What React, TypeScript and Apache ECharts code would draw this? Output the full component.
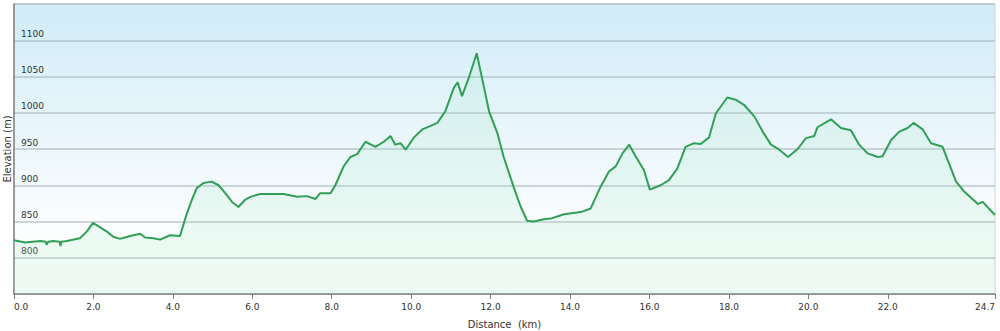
import React, { useEffect, useRef } from "react";
import * as echarts from "echarts";

const distanceKm = [
  0, 0.28, 0.66, 0.8, 0.82, 0.86, 0.99, 1.15, 1.17, 1.19, 1.33, 1.66, 1.83, 1.99, 2.17, 2.34, 2.5, 2.67,
  2.92, 3.18, 3.3, 3.51, 3.68, 3.93, 4.18, 4.35, 4.48, 4.6, 4.77, 4.98, 5.15, 5.32, 5.49, 5.65, 5.82,
  5.95, 6.2, 6.79, 7.13, 7.38, 7.59, 7.71, 7.97, 8.09, 8.3, 8.47, 8.64, 8.85, 9.1, 9.31, 9.48, 9.6, 9.73,
  9.86, 10.07, 10.28, 10.49, 10.66, 10.86, 11.07, 11.17, 11.28, 11.45, 11.65, 11.83, 11.96, 12.17,
  12.33, 12.59, 12.76, 12.92, 13.09, 13.34, 13.51, 13.85, 14.27, 14.52, 14.77, 14.98, 15.15, 15.32,
  15.49, 15.65, 15.86, 16.01, 16.28, 16.49, 16.7, 16.91, 17.12, 17.29, 17.5, 17.67, 17.96, 18.17,
  18.38, 18.64, 18.85, 19.06, 19.27, 19.49, 19.73, 19.94, 20.15, 20.23, 20.57, 20.82, 21.07, 21.28,
  21.49, 21.75, 21.87, 22.08, 22.29, 22.5, 22.65, 22.88, 23.09, 23.38, 23.72, 23.93, 24.27, 24.39, 24.7,
];

const elevationM = [
  824, 821, 823, 822, 818, 822, 823, 822, 816, 822, 823, 827, 836, 848, 842, 836, 829, 826,
  830, 833, 828, 827, 825, 831, 830, 861, 880, 896, 903, 905, 900, 889, 877, 870, 880,
  884, 888, 888, 884, 885, 881, 889, 889, 900, 926, 939, 943, 960, 953, 960, 968, 956, 958,
  949, 966, 977, 982, 986, 1002, 1034, 1042, 1023, 1048, 1082, 1036, 1002, 972,
  939, 896, 870, 851, 850, 853, 854, 860, 863, 868, 898, 919, 926, 944,
  956, 940, 921, 894, 900, 907, 923, 953, 958, 957, 966, 999, 1021, 1018,
  1011, 995, 974, 956, 949, 939, 950, 965, 968, 980, 991, 979, 976, 956,
  944, 939, 940, 962, 974, 979, 986, 977, 958, 953, 905, 891, 874, 877, 859,
];

const xTickValues = [0, 2, 4, 6, 8, 10, 12, 14, 16, 18, 20, 22, 24.7];

export default function App() {
  const ref = useRef<HTMLDivElement>(null);
  useEffect(() => {
    if (!ref.current) return;
    const chart = echarts.init(ref.current, undefined, { renderer: "svg" });
    const data = distanceKm.map((d, i) => [d, elevationM[i]]);
    chart.setOption({
      animation: false,
      textStyle: { fontFamily: "DejaVu Sans" },
      grid: {
        left: 14,
        right: 5,
        top: 4,
        bottom: 37,
        containLabel: false,
        outerBoundsMode: "none",
        show: true,
        borderColor: "#cfd3d6",
        borderWidth: 1,
        backgroundColor: new echarts.graphic.LinearGradient(0, 0, 0, 1, [
          { offset: 0, color: "#d0ecf8" },
          { offset: 0.75, color: "#fbfdfe" },
          { offset: 1, color: "#ffffff" },
        ]),
      },
      xAxis: {
        type: "value",
        min: 0,
        max: 24.7,
        interval: 2,
        name: "Distance  (km)",
        nameLocation: "middle",
        nameGap: 25,
        nameMoveOverlap: false,
        nameTextStyle: { fontSize: 10, color: "#333" },
        axisLine: { show: true, lineStyle: { color: "#808080", width: 1.5 } },
        axisTick: {
          show: true,
          length: 5,
          customValues: xTickValues,
          lineStyle: { color: "#808080" },
        },
        axisLabel: {
          fontSize: 9,
          color: "#333",
          margin: 8,
          customValues: xTickValues,
          alignMinLabel: "left",
          alignMaxLabel: "right",
          formatter: (v: number) => v.toFixed(1),
        },
        splitLine: { show: false },
      },
      yAxis: {
        type: "value",
        min: 750,
        max: 1150,
        interval: 50,
        name: "Elevation (m)",
        nameLocation: "middle",
        nameGap: 2,
        nameMoveOverlap: false,
        nameTextStyle: { fontSize: 10, color: "#333" },
        axisLine: { show: true, lineStyle: { color: "#808080", width: 1.5 } },
        axisTick: { show: false },
        axisLabel: {
          inside: true,
          showMinLabel: false,
          showMaxLabel: false,
          fontSize: 9,
          color: "#333",
          margin: 7,
          verticalAlign: "bottom",
          lineHeight: 13,
          formatter: (v: number) => String(v),
        },
        splitLine: { show: true, lineStyle: { color: "rgba(170,180,186,0.55)", width: 2 } },
      },
      series: [
        {
          type: "line",
          data,
          showSymbol: false,
          symbol: "none",
          lineStyle: { color: "#31a056", width: 2 },
          areaStyle: { color: "rgba(160,235,190,0.25)" },
          z: 3,
        },
      ],
    });
    return () => chart.dispose();
  }, []);
  return (
    <div
      ref={ref}
      style={{ position: "fixed", left: 0, top: 0, width: 1000, height: 331, background: "#fff" }}
    />
  );
}
